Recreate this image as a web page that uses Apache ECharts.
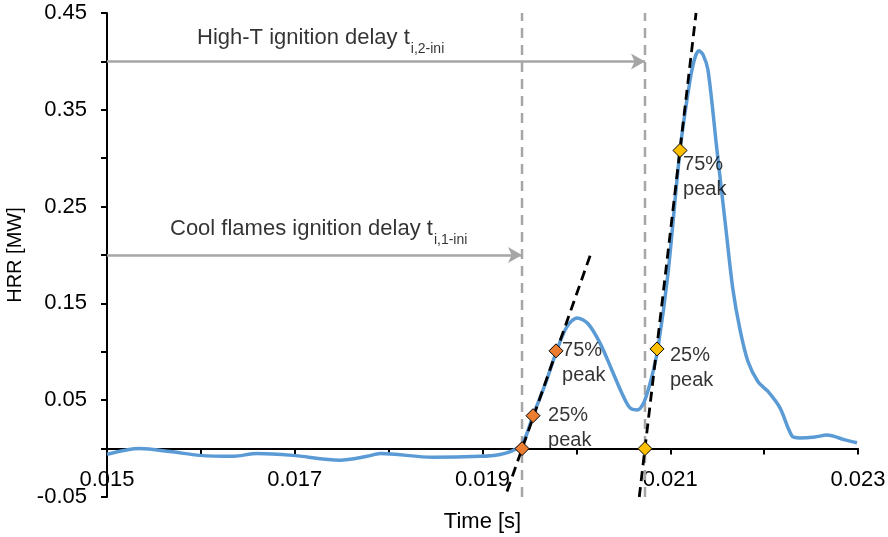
<!DOCTYPE html>
<html>
<head>
<meta charset="utf-8">
<script src="https://cdn.jsdelivr.net/npm/echarts@6/dist/echarts.min.js"></script>
<style>html,body{margin:0;padding:0;background:#fff}#c{width:888px;height:537px}</style>
</head>
<body>
<div id="c"></div>
<script>
// ---- data ----
const timeS = [0.01500,0.01535,0.01567,0.01599,0.01634,0.01660,0.01698,0.01748,0.01777,0.01791,0.01847,0.01897,
  0.019186,0.019325,0.019431,0.019538,0.019666,0.019794,0.019900,0.020007,0.020124,0.020252,0.020379,0.020486,
  0.020571,0.020646,0.020720,0.020795,0.020869,0.020976,0.021104,0.021210,0.021264,0.021306,0.021349,0.021402,
  0.021498,0.021594,0.021668,0.021743,0.021828,0.021935,0.022041,0.022169,0.022297,0.022382,0.022542,0.022670,
  0.022862,0.022989];
const hrrMW = [-0.006,0.000,-0.003,-0.007,-0.008,-0.005,-0.007,-0.012,-0.008,-0.005,-0.009,-0.008,
  -0.006,-0.002,0.006,0.034,0.066,0.102,0.126,0.135,0.129,0.109,0.081,0.057,
  0.042,0.040,0.048,0.071,0.104,0.181,0.308,0.380,0.404,0.411,0.407,0.391,
  0.308,0.226,0.164,0.123,0.090,0.069,0.059,0.042,0.013,0.011,0.012,0.014,
  0.009,0.006];

const coolMarkerT = [0.019421, 0.019538, 0.019783];
const coolMarkerV = [0, 0.034, 0.101];
const highMarkerT = [0.020731, 0.020859, 0.021104];
const highMarkerV = [0, 0.103, 0.308];

const coolTangentT = [0.019261, 0.020156];
const coolTangentV = [-0.0443, 0.202];
const highTangentT = [0.020670, 0.021275];
const highTangentV = [-0.05, 0.45];

const ignitionT = [0.019421, 0.020731];     // vertical dashed lines
const arrowStartT = 0.015;
const arrowV = [0.20, 0.40];                 // cool flames, high-T arrows

const xMin = 0.015, xMax = 0.023, xStep = 0.001;
const yMin = -0.05, yMax = 0.45, yStep = 0.05;

const titleTexts = [
  {main: 'Cool flames ignition delay t', sub: 'i,1-ini', t: 0.015671, v: 0.226},
  {main: 'High-T ignition delay t', sub: 'i,2-ini', t: 0.015959, v: 0.423}
];
const peakTexts = [
  {text: '25%\npeak', t: 0.019698, v: 0.0216},
  {text: '75%\npeak', t: 0.019847, v: 0.0881},
  {text: '25%\npeak', t: 0.020997, v: 0.083},
  {text: '75%\npeak', t: 0.021136, v: 0.281}
];

// ---- chart ----
const FONT = 'Liberation Sans, Arial, sans-serif';
const zip = (a, b) => a.map((x, i) => [x, b[i]]);
const chart = echarts.init(document.getElementById('c'), null, {renderer: 'canvas'});

const GRID = {left: 107, right: 30, top: 13, bottom: 40};
const plotH = 537 - GRID.top - GRID.bottom;
const zeroOffset = -plotH * (0 - yMin) / (yMax - yMin);   // lift x axis to y = 0

const guideSeries = ignitionT.map(t => ({
  type: 'line', data: [[t, yMin], [t, yMax]], showSymbol: false, silent: true, z: 1,
  lineStyle: {color: '#A6A6A6', width: 2.5, type: [10, 7]}
}));

chart.setOption({
  animation: false,
  backgroundColor: '#fff',
  textStyle: {fontFamily: FONT, color: '#000'},
  grid: Object.assign({containLabel: false, outerBoundsMode: 'none'}, GRID),
  xAxis: {
    type: 'value', min: xMin, max: xMax, interval: xStep, offset: zeroOffset,
    name: 'Time [s]', nameLocation: 'middle', nameGap: 62,
    nameTextStyle: {fontSize: 22, color: '#000', fontFamily: FONT},
    axisLine: {onZero: false, lineStyle: {color: '#000', width: 2}},
    axisTick: {show: true, length: 6, lineStyle: {color: '#000', width: 2}},
    axisLabel: {
      margin: 20, fontSize: 22, color: '#000', fontFamily: FONT, showMinLabel: true, showMaxLabel: true,
      formatter: v => (Math.round(v * 1000) % 2 === 1 ? v.toFixed(3) : '')
    },
    splitLine: {show: false}
  },
  yAxis: {
    type: 'value', min: yMin, max: yMax, interval: yStep,
    name: 'HRR [MW]', nameLocation: 'middle', nameGap: 61, nameRotate: 90,
    nameTextStyle: {fontSize: 20, color: '#000', fontFamily: FONT},
    axisLine: {onZero: false, lineStyle: {color: '#000', width: 2}},
    axisTick: {show: true, length: 6, lineStyle: {color: '#000', width: 2}},
    axisLabel: {
      margin: 20, fontSize: 22, color: '#000', fontFamily: FONT, showMinLabel: true, showMaxLabel: true,
      formatter: v => { const k = Math.round(v * 100); return (Math.abs(k % 10) === 5) ? v.toFixed(2) : ''; }
    },
    splitLine: {show: false}
  },
  series: guideSeries.concat([
    {
      type: 'line', name: 'arrows', data: [], silent: true, z: 1,
      markLine: {
        silent: true, symbol: ['none', 'arrow'], symbolSize: [12, 14], label: {show: false}, animation: false,
        lineStyle: {color: '#A6A6A6', width: 2.5, type: 'solid'},
        data: arrowV.map((v, i) => [{coord: [arrowStartT, v]}, {coord: [ignitionT[i], v]}])
      }
    },
    {
      type: 'line', name: 'HRR', data: zip(timeS, hrrMW), smooth: 0.3, showSymbol: false, z: 3,
      lineStyle: {color: '#5B9BD5', width: 3.5}, itemStyle: {color: '#5B9BD5'}
    },
    {
      type: 'line', data: zip(coolTangentT, coolTangentV), showSymbol: false, z: 4,
      lineStyle: {color: '#000', width: 2.8, type: [10, 6]}
    },
    {
      type: 'line', data: zip(highTangentT, highTangentV), showSymbol: false, z: 4,
      lineStyle: {color: '#000', width: 2.8, type: [10, 6]}
    },
    {
      type: 'scatter', data: zip(coolMarkerT, coolMarkerV), symbol: 'diamond', symbolSize: 14, z: 5,
      itemStyle: {color: '#ED7D31', borderColor: '#000', borderWidth: 1, opacity: 1}
    },
    {
      type: 'scatter', data: zip(highMarkerT, highMarkerV), symbol: 'diamond', symbolSize: 14, z: 5,
      itemStyle: {color: '#FFC000', borderColor: '#000', borderWidth: 1, opacity: 1}
    },
    {
      type: 'scatter', silent: true, z: 6, symbolSize: 0,
      data: peakTexts.map(p => ({value: [p.t, p.v], txt: p.text})),
      label: {
        show: true, position: 'right', distance: 0, align: 'left', verticalAlign: 'middle',
        fontSize: 20, lineHeight: 25, color: '#000', fontFamily: FONT,
        formatter: p => p.data.txt
      }
    },
    {
      type: 'scatter', silent: true, z: 6, symbolSize: 0,
      data: titleTexts.map(p => ({value: [p.t, p.v], main: p.main, sub: p.sub})),
      label: {
        show: true, position: 'right', distance: 0, align: 'left', verticalAlign: 'middle',
        formatter: p => '{a|' + p.data.main + '}{b|' + p.data.sub + '}',
        rich: {
          a: {fontSize: 22, lineHeight: 24, verticalAlign: 'top', color: '#000', fontFamily: FONT},
          b: {fontSize: 14, lineHeight: 14, verticalAlign: 'top', padding: [15, 0, 0, 1], color: '#000', fontFamily: FONT}
        }
      }
    }
  ])
});
</script>
</body>
</html>
